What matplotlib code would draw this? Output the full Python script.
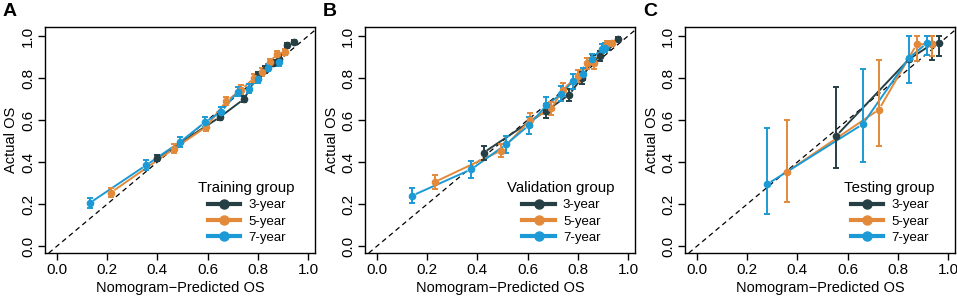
import numpy as np
import matplotlib
matplotlib.use('Agg')
import matplotlib.pyplot as plt
from matplotlib.lines import Line2D

plt.rcParams['font.family'] = ['Liberation Sans', 'DejaVu Sans']
plt.rcParams['font.size'] = 10.5

years = ['3-year', '5-year', '7-year']
colors = ['#263f44', '#e3893a', '#1b9ad6']
panel_letters = ['A', 'B', 'C']
group_titles = ['Training group', 'Validation group', 'Testing group']

# panel A (training)
a3_x = [0.40, 0.65, 0.745, 0.80, 0.83, 0.86, 0.885, 0.915, 0.945]
a3_y = [0.42, 0.615, 0.70, 0.815, 0.84, 0.87, 0.89, 0.955, 0.97]
a3_e = [0.015, 0.015, 0.015, 0.015, 0.015, 0.015, 0.012, 0.012, 0.01]
a5_x = [0.215, 0.465, 0.595, 0.675, 0.735, 0.785, 0.815, 0.85, 0.875, 0.91]
a5_y = [0.255, 0.463, 0.568, 0.69, 0.745, 0.80, 0.83, 0.877, 0.915, 0.925]
a5_e = [0.022, 0.022, 0.02, 0.02, 0.02, 0.018, 0.018, 0.016, 0.014, 0.014]
a7_x = [0.13, 0.355, 0.49, 0.59, 0.655, 0.72, 0.765, 0.80, 0.84, 0.885]
a7_y = [0.205, 0.385, 0.495, 0.59, 0.64, 0.735, 0.75, 0.795, 0.85, 0.875]
a7_e = [0.022, 0.025, 0.025, 0.025, 0.022, 0.022, 0.02, 0.02, 0.018, 0.018]

# panel B (validation)
b3_x = [0.425, 0.675, 0.765, 0.815, 0.86, 0.89, 0.92, 0.96]
b3_y = [0.445, 0.645, 0.72, 0.80, 0.885, 0.905, 0.955, 0.985]
b3_e = [0.033, 0.033, 0.03, 0.028, 0.025, 0.022, 0.02, 0.01]
b5_x = [0.23, 0.495, 0.61, 0.695, 0.74, 0.80, 0.835, 0.865, 0.915, 0.935]
b5_y = [0.305, 0.455, 0.60, 0.655, 0.745, 0.81, 0.87, 0.87, 0.96, 0.965]
b5_e = [0.032, 0.033, 0.033, 0.032, 0.03, 0.028, 0.025, 0.025, 0.015, 0.012]
b7_x = [0.14, 0.375, 0.515, 0.605, 0.675, 0.735, 0.78, 0.82, 0.855, 0.895, 0.91]
b7_y = [0.24, 0.365, 0.485, 0.575, 0.67, 0.725, 0.785, 0.82, 0.89, 0.94, 0.945]
b7_e = [0.035, 0.04, 0.04, 0.04, 0.04, 0.035, 0.035, 0.03, 0.025, 0.02, 0.02]

# panel C (testing), asymmetric bars
c3_x = [0.555, 0.845, 0.935, 0.965]
c3_y = [0.525, 0.89, 0.96, 0.965]
c3_lo = [0.37, 0.89, 0.885, 0.905]
c3_hi = [0.755, 0.89, 1.0, 1.0]
c5_x = [0.36, 0.725, 0.875, 0.935]
c5_y = [0.355, 0.65, 0.96, 0.963]
c5_lo = [0.21, 0.475, 0.88, 0.905]
c5_hi = [0.60, 0.885, 1.0, 1.0]
c7_x = [0.28, 0.66, 0.845, 0.915]
c7_y = [0.295, 0.58, 0.896, 0.965]
c7_lo = [0.155, 0.40, 0.775, 0.91]
c7_hi = [0.56, 0.845, 1.0, 1.0]

panels = [
    [(a3_x, a3_y, np.array(a3_y) - a3_e, np.array(a3_y) + a3_e),
     (a5_x, a5_y, np.array(a5_y) - a5_e, np.array(a5_y) + a5_e),
     (a7_x, a7_y, np.array(a7_y) - a7_e, np.array(a7_y) + a7_e)],
    [(b3_x, b3_y, np.array(b3_y) - b3_e, np.array(b3_y) + b3_e),
     (b5_x, b5_y, np.array(b5_y) - b5_e, np.array(b5_y) + b5_e),
     (b7_x, b7_y, np.array(b7_y) - b7_e, np.array(b7_y) + b7_e)],
    [(c3_x, c3_y, c3_lo, c3_hi),
     (c5_x, c5_y, c5_lo, c5_hi),
     (c7_x, c7_y, c7_lo, c7_hi)],
]


def gapped_line(ax, x, y, color, gap=4.0):
    # R type="b": segments stop short of each point
    pts = ax.transData.transform(np.column_stack([x, y]))
    inv = ax.transData.inverted()
    for p0, p1 in zip(pts[:-1], pts[1:]):
        d = p1 - p0
        L = np.hypot(*d)
        if L <= 2 * gap:
            continue
        q0 = p0 + d * gap / L
        q1 = p1 - d * gap / L
        seg = inv.transform(np.vstack([q0, q1]))
        ax.plot(seg[:, 0], seg[:, 1], color=color, lw=1.4, solid_capstyle='butt', zorder=2)


fig = plt.figure(figsize=(9.57, 2.98), dpi=100)
lefts = [45, 365, 685]
for i, left in enumerate(lefts):
    ax = fig.add_axes([left / 957, 1 - 253 / 298, 270 / 957, 226 / 298])
    ax.set_xlim(-0.048, 1.028)
    ax.set_ylim(-0.033, 1.043)
    ax.axline((0, 0), (1, 1), color='black', lw=0.9, ls=(0, (4, 3)), zorder=1)
    for (x, y, lo, hi), col in zip(panels[i], colors):
        y = np.array(y)
        gapped_line(ax, x, y, col)
        ax.errorbar(x, y, yerr=[y - np.array(lo), np.array(hi) - y], fmt='o', color=col,
                    ms=4.5, elinewidth=1.4, capsize=2.5, capthick=1.4, zorder=3)
    ticks = [0.0, 0.2, 0.4, 0.6, 0.8, 1.0]
    ax.set_xticks(ticks)
    ax.set_yticks(ticks)
    ax.set_xticklabels(['%.1f' % t for t in ticks])
    ax.set_yticklabels(['%.1f' % t for t in ticks], rotation=90, va='center')
    ax.tick_params(direction='out', length=5, width=1, labelsize=11, pad=2)
    for s in ax.spines.values():
        s.set_linewidth(1.0)
    ax.set_xlabel('Nomogram\u2212Predicted OS', fontsize=10.5, labelpad=3)
    ax.set_ylabel('Actual OS', fontsize=10.5, labelpad=2)
    handles = [Line2D([], [], color=c, lw=3, marker='o', ms=6.5) for c in colors]
    leg = ax.legend(handles, years, title=group_titles[i], loc='lower right',
                    bbox_to_anchor=(0.96, 0.0), frameon=False, fontsize=9.5,
                    title_fontsize=10.8, handlelength=2.5, labelspacing=0.3,
                    handletextpad=0.6, borderaxespad=0.3)
    fig.text((left - 42) / 957, 1 - 11 / 298, panel_letters[i], fontsize=14,
             fontweight='bold', va='center', ha='left')

fig.savefig('out.png', dpi=100)
